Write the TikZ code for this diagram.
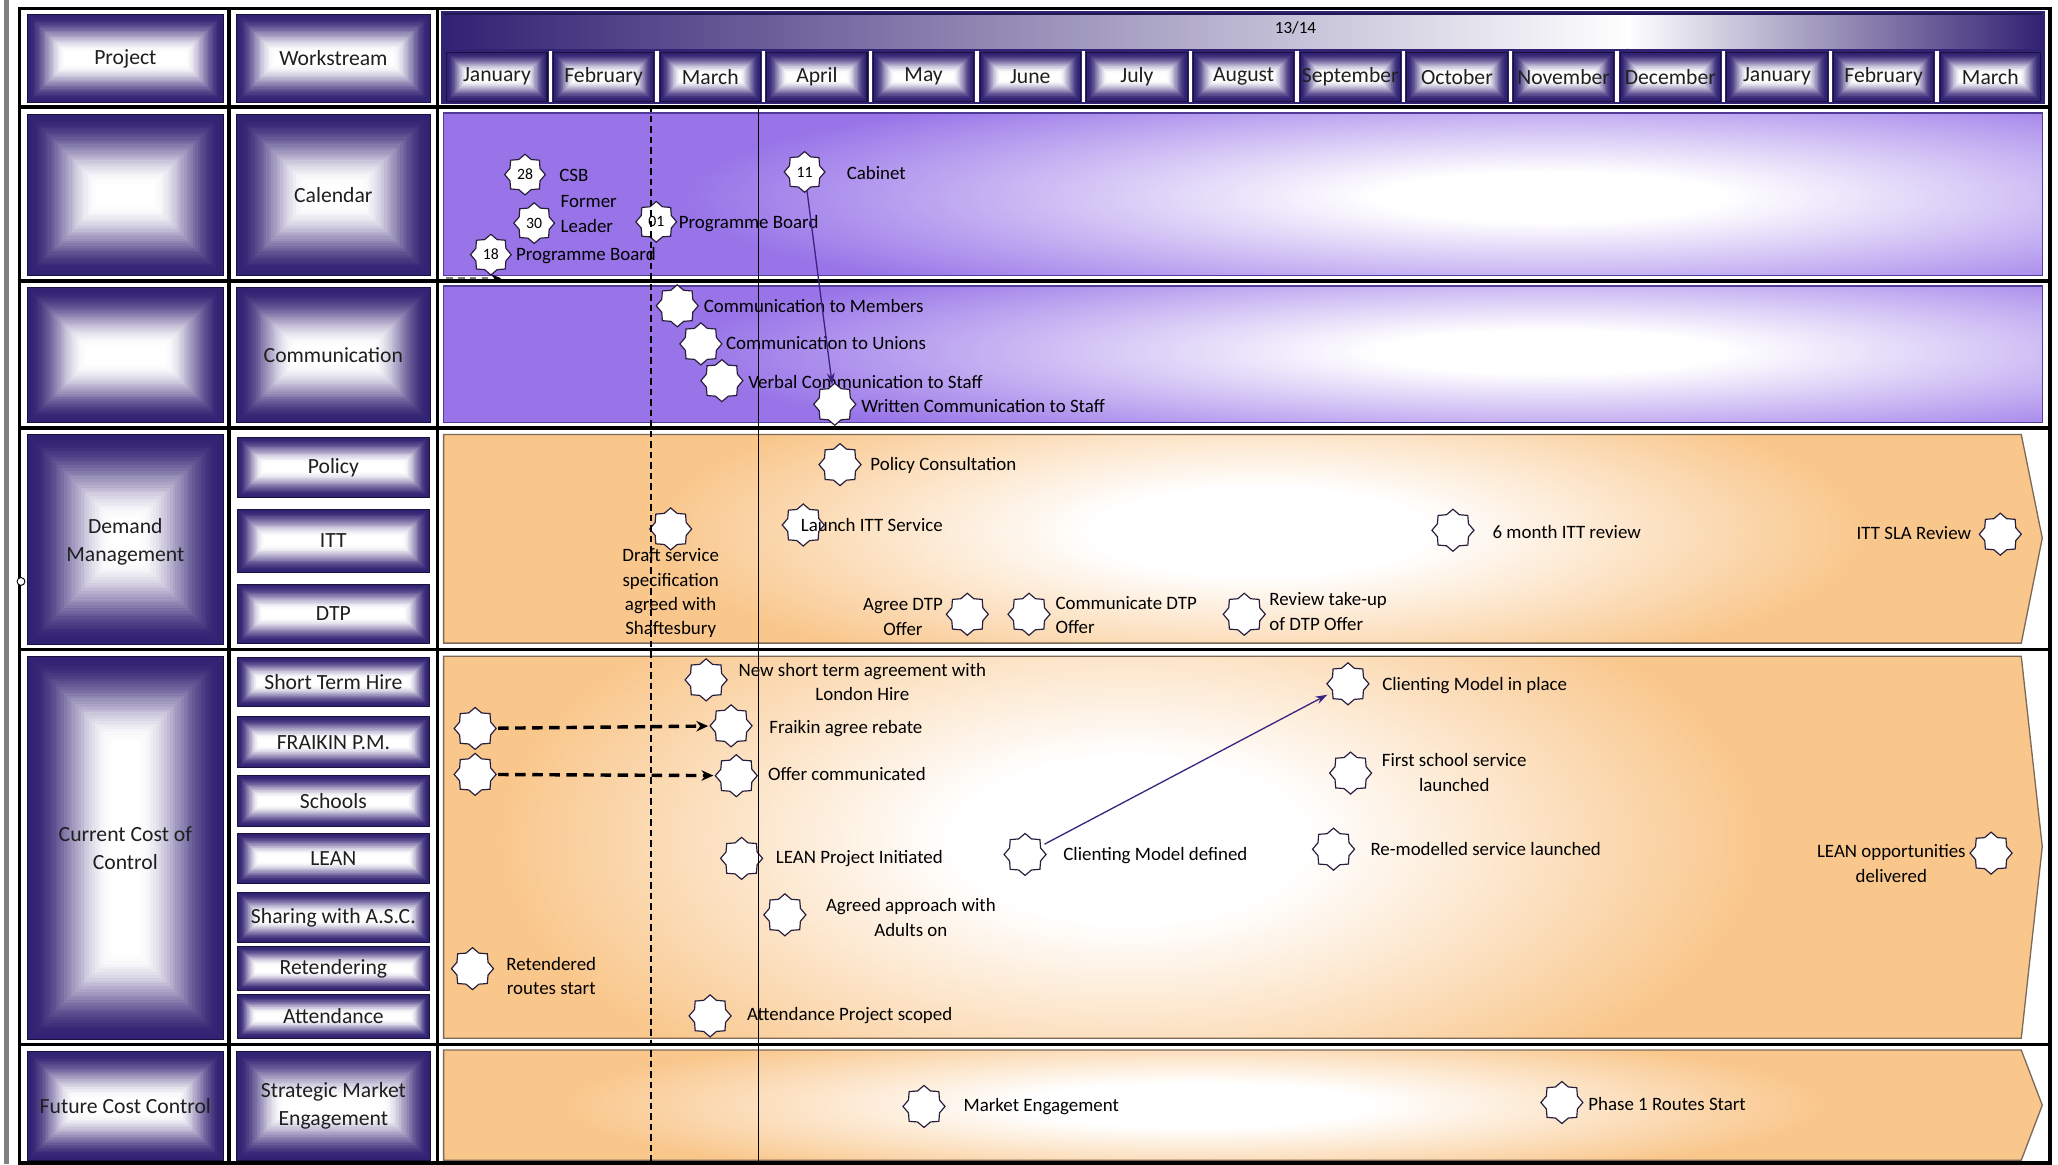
\documentclass[tikz,border=0pt]{standalone}
\usepackage{fontspec}
\setmainfont{Carlito}
\usetikzlibrary{shapes.geometric,arrows.meta}

\definecolor{deep}{RGB}{50,34,115}
\definecolor{cellline}{RGB}{25,18,60}
\definecolor{bandpurple}{RGB}{152,116,232}
\definecolor{bandorange}{RGB}{249,199,140}
\definecolor{orangeline}{RGB}{125,105,85}
\definecolor{purpleline}{RGB}{80,60,150}
\definecolor{arrowpurple}{RGB}{60,35,130}
\definecolor{msline}{RGB}{40,30,60}

\pgfdeclareradialshading{glowo}{\pgfpoint{0bp}{0bp}}{color(0bp)=(white); color(7bp)=(white); color(25bp)=(bandorange); color(50bp)=(bandorange)}
\pgfdeclareradialshading{glowp}{\pgfpoint{0bp}{0bp}}{color(0bp)=(white); color(5bp)=(white); color(25bp)=(bandpurple); color(50bp)=(bandpurple)}

\newcommand{\gradcell}[4]{%
  \pgfmathsetmacro{\gcm}{min((#3)-(#1),(#4)-(#2))/2}%
  \foreach \k in {0,...,30}{%
    \pgfmathsetmacro{\gci}{\k*\gcm*0.86/30}%
    \pgfmathtruncatemacro{\gcw}{100*(3*(\k/30)^2-2*(\k/30)^3)}%
    \fill[white!\gcw!deep] ({(#1)+\gci},{(#2)+\gci}) rectangle ({(#3)-\gci},{(#4)-\gci});
  }%
  \draw[cellline, line width=0.8pt] (#1,#2) rectangle (#3,#4);%
}

\begin{document}
\begin{tikzpicture}[x=1pt,y=-1pt,
  ms/.style={star, star points=8, star point ratio=1.25, draw=msline, fill=white, line width=0.9pt, minimum size=32pt, inner sep=0pt},
  msn/.style={ms, minimum size=31pt, font=\fontsize{12}{13}\selectfont},
  lbl/.style={font=\fontsize{14.4}{18.5}\selectfont, inner sep=0pt, text=black},
  ctx/.style={font=\fontsize{16.5}{21}\selectfont, inner sep=0pt, align=center, text=black!88},
  grid/.style={line width=2.6pt, black},
  oband/.style={draw=orangeline, line width=1pt},
  pband/.style={draw=purpleline, line width=1pt},
  arr/.style={draw=arrowpurple, line width=1pt, -{Stealth[length=9pt,width=6pt]}},
  dasharr/.style={draw=black, line width=2.6pt, dash pattern=on 8pt off 5pt, -{Stealth[length=9pt,width=8pt]}, shorten >=1pt, shorten <=1pt},
]
\useasboundingbox (0,0) rectangle (1568,887);
\fill[white] (0,0) rectangle (1568,887);
\fill[gray] (3,0) rectangle (7,887);

% grid
\draw[grid] (15,6.5) rectangle (1562,886);
\foreach \yy in {81.5,214,326,495,796} \draw[grid] (15,\yy) -- (1562,\yy);
\foreach \xx in {174.5,333.5} \draw[grid] (\xx,6.5) -- (\xx,886);

% header timeline
\fill[deep] (336,8) rectangle (1558,79);
\shade[left color=deep, right color=white] (338,10) rectangle (1240,37);
\shade[left color=white, right color=deep] (1240,10) rectangle (1556,37);
\draw[deep!70!black, line width=1.5pt] (338,10.5) -- (1556,10.5);
\node[font=\fontsize{13}{14}\selectfont, inner sep=0pt] (yr) at (987,21) {13/14};
\foreach \m [count=\i from 0] in {January,February,March,April,May,June,July,August,September,October,November,December,January,February,March} {
  \pgfmathsetmacro{\xa}{338+\i*81.27+2.5}
  \pgfmathsetmacro{\xb}{338+(\i+1)*81.27-2.5}
  \gradcell{\xa}{40}{\xb}{77}
  \node[ctx] (mon\i) at ({(\xa+\xb)/2},58.5) {\m};
}
\foreach \i in {1,...,14} \draw[white, line width=2.5pt] ({338+\i*81.27},39) -- ({338+\i*81.27},78);

% left cells
\gradcell{21}{11}{170}{78} \node[ctx] (hp) at (95.5,44.5) {Project};
\gradcell{180}{11}{328}{78} \node[ctx] (hw) at (254,44.5) {Workstream};
\gradcell{21}{87}{170}{210}
\gradcell{180}{87}{328}{210} \node[ctx] (wcal) at (254,148.5) {Calendar};
\gradcell{21}{219}{170}{322}
\gradcell{180}{219}{328}{322} \node[ctx] (wcom) at (254,270.5) {Communication};
\gradcell{21}{331}{170}{491} \node[ctx] (pdm) at (95.5,413) {Demand\\Management};
\gradcell{181}{333}{327}{379} \node[ctx] (wpol) at (254,356) {Policy};
\gradcell{181}{388}{327}{436} \node[ctx] (witt) at (254,412) {ITT};
\gradcell{181}{445}{327}{490} \node[ctx] (wdtp) at (254,467.5) {DTP};
\gradcell{21}{500}{170}{792} \node[ctx] (pccc) at (95.5,646) {Current Cost of\\Control};
\gradcell{181}{501}{327}{538} \node[ctx] (wsth) at (254,519.5) {Short Term Hire};
\gradcell{181}{546}{327}{585} \node[ctx] (wfra) at (254,565.5) {FRAIKIN P.M.};
\gradcell{181}{591}{327}{630} \node[ctx] (wsch) at (254,610.5) {Schools};
\gradcell{181}{635}{327}{673} \node[ctx] (wlean) at (254,654) {LEAN};
\gradcell{181}{680}{327}{718} \node[ctx] (wsha) at (254,699) {Sharing with A.S.C.};
\gradcell{181}{721}{327}{755} \node[ctx] (wret) at (254,738) {Retendering};
\gradcell{181}{758}{327}{791} \node[ctx] (watt) at (254,774.5) {Attendance};
\gradcell{21}{801}{170}{884} \node[ctx] (pfcc) at (95.5,842.5) {Future Cost Control};
\gradcell{180}{801}{328}{884} \node[ctx] (wsme) at (254,842.5) {Strategic Market\\Engagement};

% bands
\begin{scope}
  \clip (338,86) rectangle (1556,210);
  \fill[bandpurple] (338,86) rectangle (1556,210);
  \shade[shading=glowp] (1180,150) ellipse [x radius=660pt, y radius=95pt];
\end{scope}
\draw[pband] (338,86) rectangle (1556,210);
\begin{scope}
  \clip (338,218) rectangle (1556,322);
  \fill[bandpurple] (338,218) rectangle (1556,322);
  \shade[shading=glowp] (1180,268) ellipse [x radius=660pt, y radius=82pt];
\end{scope}
\draw[pband] (338,218) rectangle (1556,322);

\begin{scope}
  \clip (338,331) -- (1540,331) -- (1556,410) -- (1540,490) -- (338,490) -- cycle;
  \fill[bandorange] (330,325) rectangle (1560,495);
  \shade[shading=glowo] (960,405) ellipse [x radius=460pt, y radius=120pt];
\end{scope}
\draw[oband] (338,331) -- (1540,331) -- (1556,410) -- (1540,490) -- (338,490) -- cycle;
\begin{scope}
  \clip (338,500) -- (1540,500) -- (1556,645) -- (1540,791) -- (338,791) -- cycle;
  \fill[bandorange] (330,495) rectangle (1560,796);
  \shade[shading=glowo] (860,640) ellipse [x radius=480pt, y radius=225pt];
\end{scope}
\draw[oband] (338,500) -- (1540,500) -- (1556,645) -- (1540,791) -- (338,791) -- cycle;
\begin{scope}
  \clip (338,800) -- (1540,800) -- (1556,842) -- (1540,884) -- (338,884) -- cycle;
  \fill[bandorange] (330,796) rectangle (1560,886);
  \shade[shading=glowo] (910,842) ellipse [x radius=480pt, y radius=60pt];
\end{scope}
\draw[oband] (338,800) -- (1540,800) -- (1556,842) -- (1540,884) -- (338,884) -- cycle;

% handle
\node[circle, draw=black, fill=white, line width=0.7pt, inner sep=0pt, minimum size=6pt] (hd) at (16,443) {};

% calendar milestones
\node[msn] (c28) at (400,133) {28};
\node[lbl, anchor=west] (l28) at (426,134) {CSB};
\node[msn] (c30) at (407,170) {30};
\node[lbl, anchor=west, align=left] (l30) at (427,163) {Former\\Leader};
\node[msn] (c01) at (500,169) {01};
\node[lbl, anchor=west] (l01) at (517,170) {Programme Board};
\node[msn] (c18) at (374,194) {18};
\node[lbl, anchor=west] (l18) at (393,195) {Programme Board};
\node[msn] (c11) at (613,131) {11};
\node[lbl, anchor=west] (l11) at (645,132) {Cabinet};

% communication
\node[ms] (cm1) at (516,233) {};
\node[lbl, anchor=west] (lcm1) at (536,233) {Communication to Members};
\node[ms] (cm2) at (534,262) {};
\node[lbl, anchor=west] (lcm2) at (553,261) {Communication to Unions};
\node[ms] (cm3) at (550,290) {};
\node[lbl, anchor=west] (lcm3) at (570,291) {Verbal Communication to Staff};
\node[ms] (cm4) at (636,308) {};
\node[lbl, anchor=west] (lcm4) at (656,309) {Written Communication to Staff};

% demand management
\node[ms] (pc) at (640,354) {};
\node[lbl, anchor=west] (lpc) at (663,355) {Policy Consultation};
\node[ms] (itt) at (612,400) {};
\node[lbl, anchor=west] (litt) at (610,400) {Launch ITT Service};
\node[ms] (dss) at (511,403) {};
\node[lbl, align=center] (ldss) at (511,452) {Draft service\\specification\\agreed with\\Shaftesbury};
\node[ms] (sixm) at (1107,404) {};
\node[lbl, anchor=west] (lsixm) at (1137,405) {6 month ITT review};
\node[ms] (sla) at (1524,407) {};
\node[lbl, anchor=east] (lsla) at (1502,406) {ITT SLA Review};
\node[ms] (adtp) at (737,468) {};
\node[lbl, align=center] (ladtp) at (688,470) {Agree DTP\\Offer};
\node[ms] (cdtp) at (784,468) {};
\node[lbl, anchor=west, align=left] (lcdtp) at (804,468.5) {Communicate DTP\\Offer};
\node[ms] (rdtp) at (948,468) {};
\node[lbl, anchor=west, align=left] (lrdtp) at (967,466) {Review take-up\\of DTP Offer};

% current cost of control
\node[ms] (sth) at (538,518) {};
\node[lbl, align=center] (lsth) at (657,519.5) {New short term agreement with\\London Hire};
\node[ms] (fr0) at (362,555) {};
\node[ms] (fr1) at (557,553) {};
\node[lbl, anchor=west] (lfr) at (586,555) {Fraikin agree rebate};
\node[ms] (oc0) at (362,590) {};
\node[ms] (oc1) at (561,591) {};
\node[lbl, anchor=west] (loc) at (585,590) {Offer communicated};
\node[ms] (lpi) at (565,654) {};
\node[lbl, anchor=west] (llpi) at (591,654) {LEAN Project Initiated};
\node[ms] (cmd) at (781,651) {};
\node[lbl, anchor=west] (lcmd) at (810,652) {Clienting Model defined};
\node[ms] (cmp) at (1027,521) {};
\node[lbl, anchor=west] (lcmp) at (1053,522) {Clienting Model in place};
\node[ms] (fss) at (1029,589) {};
\node[lbl, align=center] (lfss) at (1108,588.5) {First school service\\launched};
\node[ms] (rsl) at (1016,647) {};
\node[lbl, anchor=west] (lrsl) at (1044,647) {Re-modelled service launched};
\node[ms] (lod) at (1517,650) {};
\node[lbl, align=center] (llod) at (1441,658) {LEAN opportunities\\delivered};
\node[ms] (aaa) at (598,697) {};
\node[lbl, align=center] (laaa) at (694,699) {Agreed approach with\\Adults on};
\node[ms] (rrs) at (360,738) {};
\node[lbl, align=center] (lrrs) at (420,743.5) {Retendered\\routes start};
\node[ms] (aps) at (541,774) {};
\node[lbl, anchor=west] (laps) at (569,774) {Attendance Project scoped};

% future cost control
\node[ms] (me) at (704,843) {};
\node[lbl, anchor=west] (lme) at (734,843) {Market Engagement};
\node[ms] (p1) at (1190,840) {};
\node[lbl, anchor=west] (lp1) at (1210,841) {Phase 1 Routes Start};

% vertical date lines
\coordinate (dTop) at (496,80);
\coordinate (dBot) at (496,886);
\coordinate (sTop) at (578,80);
\coordinate (sBot) at (578,886);
\draw[black, line width=0.8pt, dash pattern=on 5pt off 3pt] (dTop) -- (dBot);
\draw[black, line width=0.8pt] (sTop) -- (sBot);

% connectors
\coordinate (ca) at (340,212);
\coordinate (cb) at (382,212);
\draw[gray, line width=1.2pt, dash pattern=on 5pt off 4pt, -{Stealth[length=8pt,width=6pt,color=black]}] (ca) -- (cb);
\draw[arr] (c11) -- (cm4);
\draw[arr, shorten >=4pt, shorten <=3pt] (cmd) -- (cmp);
\draw[dasharr] (fr0) -- (fr1);
\draw[dasharr] (oc0) -- (oc1);
\end{tikzpicture}
\end{document}
